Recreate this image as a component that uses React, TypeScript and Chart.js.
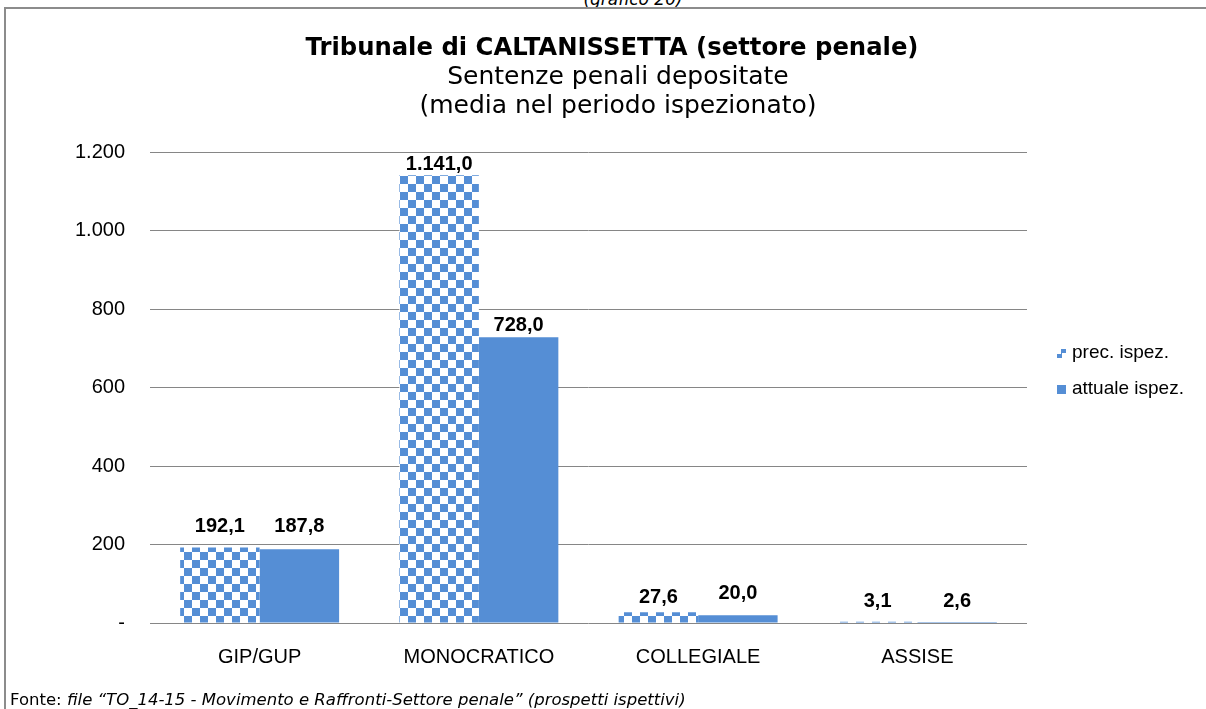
import React, { useEffect, useRef } from "react";
import { Chart, registerables } from "chart.js";

Chart.register(...registerables);

const categories = ["GIP/GUP", "MONOCRATICO", "COLLEGIALE", "ASSISE"];
const precIspez = [192.1, 1141.0, 27.6, 3.1];
const attualeIspez = [187.8, 728.0, 20.0, 2.6];
const seriesNames = ["prec. ispez.", "attuale ispez."];
const yTicks = [0, 200, 400, 600, 800, 1000, 1200];

const BLUE = "#558ed5";
const labelLift = [
  [21, 11, 15, 20],
  [23, 12, 22, 20],
];

function fmtIt(v: number, dec: number): string {
  const s = v.toFixed(dec);
  const [i, d] = s.split(".");
  const ii = i.replace(/\B(?=(\d{3})+(?!\d))/g, ".");
  return d ? ii + "," + d : ii;
}

function makePattern(): CanvasPattern | string {
  const c = document.createElement("canvas");
  c.width = 16;
  c.height = 16;
  const ctx = c.getContext("2d");
  if (!ctx) return BLUE;
  ctx.fillStyle = "#ffffff";
  ctx.fillRect(0, 0, 16, 16);
  ctx.fillStyle = BLUE;
  ctx.fillRect(0, 0, 8, 8);
  ctx.fillRect(8, 8, 8, 8);
  const p = ctx.createPattern(c, "repeat");
  return p || BLUE;
}

const valueLabels = {
  id: "valueLabels",
  afterDatasetsDraw(chart: any) {
    const ctx = chart.ctx;
    ctx.save();
    ctx.font = "bold 20px 'Liberation Sans', Arial, sans-serif";
    ctx.fillStyle = "#000";
    ctx.textAlign = "center";
    ctx.textBaseline = "middle";
    chart.data.datasets.forEach((ds: any, di: number) => {
      const meta = chart.getDatasetMeta(di);
      meta.data.forEach((el: any, i: number) => {
        const v = ds.data[i] as number;
        ctx.fillText(fmtIt(v, 1), el.x, el.y - labelLift[di][i]);
      });
    });
    ctx.restore();
  },
};

export default function App() {
  const ref = useRef<HTMLCanvasElement | null>(null);

  useEffect(() => {
    if (!ref.current) return;
    const pattern = makePattern();
    const chart = new Chart(ref.current, {
      type: "bar",
      data: {
        labels: categories,
        datasets: [
          {
            label: seriesNames[0],
            data: precIspez,
            backgroundColor: pattern as any,
            borderWidth: 0,
            categoryPercentage: 0.725,
            barPercentage: 1,
          },
          {
            label: seriesNames[1],
            data: attualeIspez,
            backgroundColor: BLUE,
            borderWidth: 0,
            categoryPercentage: 0.725,
            barPercentage: 1,
          },
        ],
      },
      options: {
        responsive: false,
        animation: false,
        layout: { padding: { left: 10, right: 179, top: 152, bottom: 46 } },
        plugins: {
          legend: { display: false },
          title: { display: false },
          tooltip: { enabled: false },
        },
        scales: {
          x: {
            grid: { display: false },
            border: { display: false },
            ticks: {
              color: "#000",
              padding: 14,
              font: { family: "'Liberation Sans', Arial, sans-serif", size: 20 },
            },
            afterFit: (s: any) => {
              s.height = 40;
            },
          },
          y: {
            min: 0,
            max: 1200,
            afterBuildTicks: (s: any) => {
              s.ticks = yTicks.map((v) => ({ value: v }));
            },
            grid: { color: "#868686", lineWidth: 1, drawTicks: false },
            border: { display: false },
            ticks: {
              color: "#000",
              padding: 25,
              font: { family: "'Liberation Sans', Arial, sans-serif", size: 20 },
              callback: (v: any) => (Number(v) === 0 ? "-" : fmtIt(Number(v), 0)),
            },
            afterFit: (s: any) => {
              s.width = 140;
            },
          },
        },
      },
      plugins: [valueLabels],
    });
    return () => chart.destroy();
  }, []);

  const sans = "'Liberation Sans', Arial, sans-serif";
  const verd = "'DejaVu Sans', Verdana, sans-serif";

  return (
    <div
      style={{
        position: "absolute",
        left: 0,
        top: 0,
        width: 1206,
        height: 709,
        overflow: "hidden",
        background: "#fff",
      }}
    >
      <div
        style={{
          position: "absolute",
          left: 633,
          top: -11,
          transform: "translateX(-50%)",
          fontFamily: verd,
          fontStyle: "italic",
          fontSize: 17,
          whiteSpace: "nowrap",
          color: "#000",
        }}
      >
        (grafico 20)
      </div>
      <div
        style={{
          position: "absolute",
          left: 4,
          top: 7,
          width: 1210,
          height: 720,
          borderLeft: "2px solid #8c8c8c",
          borderTop: "2px solid #8c8c8c",
          boxSizing: "border-box",
        }}
      />
      <canvas ref={ref} width={1206} height={709} style={{ position: "absolute", left: 0, top: 0 }} />
      <div
        style={{
          position: "absolute",
          left: 612,
          top: 33,
          transform: "translateX(-50%)",
          fontFamily: verd,
          fontWeight: "bold",
          fontSize: 24.3,
          lineHeight: "28px",
          whiteSpace: "nowrap",
          color: "#000",
        }}
      >
        Tribunale di CALTANISSETTA (settore penale)
      </div>
      <div
        style={{
          position: "absolute",
          left: 618,
          top: 61,
          transform: "translateX(-50%)",
          fontFamily: verd,
          fontSize: 25,
          lineHeight: "29px",
          textAlign: "center",
          whiteSpace: "nowrap",
          color: "#000",
        }}
      >
        Sentenze penali depositate
        <br />
        (media nel periodo ispezionato)
      </div>
      <div style={{ position: "absolute", left: 1057, top: 341, fontFamily: sans, fontSize: 19, lineHeight: "22px", color: "#000", whiteSpace: "nowrap" }}>
        <span
          style={{
            display: "inline-block",
            width: 9,
            height: 9,
            marginRight: 6,
            background: `repeating-conic-gradient(${BLUE} 0 25%, #fff 0 50%) 0 0/9px 9px`,
          }}
        />
        {seriesNames[0]}
      </div>
      <div style={{ position: "absolute", left: 1057, top: 377, fontFamily: sans, fontSize: 19, lineHeight: "22px", color: "#000", whiteSpace: "nowrap" }}>
        <span style={{ display: "inline-block", width: 9, height: 9, marginRight: 6, background: BLUE }} />
        {seriesNames[1]}
      </div>
      <div
        style={{
          position: "absolute",
          left: 10,
          top: 690,
          fontFamily: verd,
          fontSize: 16.5,
          lineHeight: "19px",
          whiteSpace: "nowrap",
          color: "#000",
        }}
      >
        Fonte: <i>file “TO_14-15 - Movimento e Raffronti-Settore penale” (prospetti ispettivi)</i>
      </div>
    </div>
  );
}
